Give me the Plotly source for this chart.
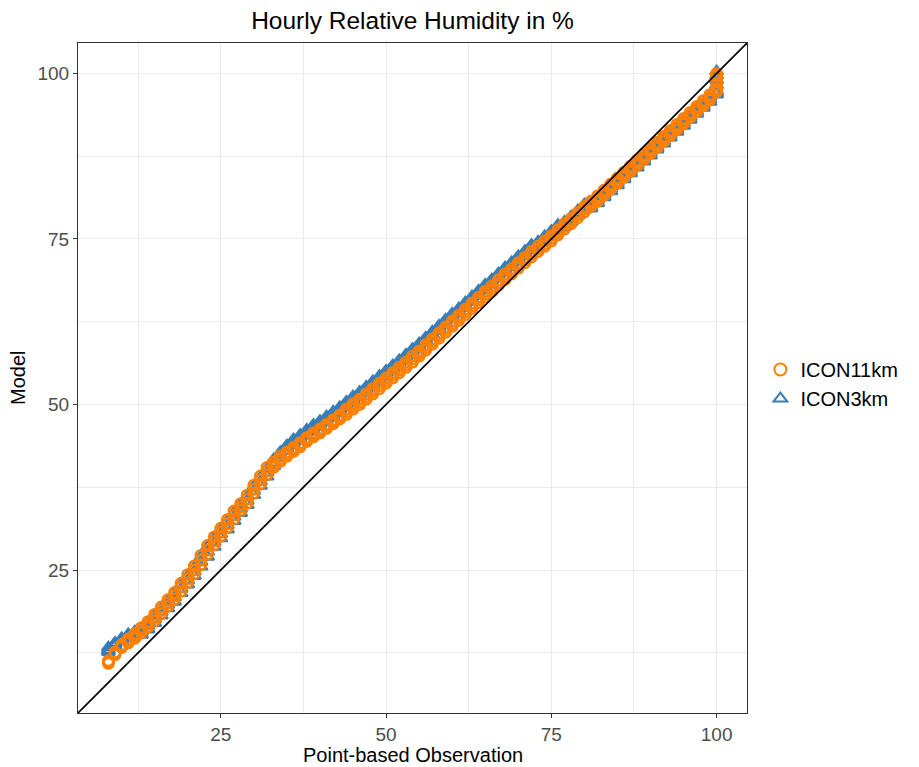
import plotly.graph_objects as go

# Observation quantiles (integer % RH) and model quantiles (lower / middle / upper of each stack)
obs = [8, 9, 10, 11, 12, 13, 14, 15, 16, 17, 18, 19, 20, 21, 22, 23, 24, 25, 26, 27,
       28, 29, 30, 31, 32, 33, 34, 35, 36, 37, 38, 39, 40, 41, 42, 43, 44, 45, 46, 47,
       48, 49, 50, 51, 52, 53, 54, 55, 56, 57, 58, 59, 60, 61, 62, 63, 64, 65, 66, 67,
       68, 69, 70, 71, 72, 73, 74, 75, 76, 77, 78, 79, 80, 81, 82, 83, 84, 85, 86, 87,
       88, 89, 90, 91, 92, 93, 94, 95, 96, 97, 98, 99, 100]

icon11_lo = [10.9, 12.2, 13.3, 14.0, 14.7, 15.5, 16.4, 17.3, 18.4, 19.5, 20.6, 21.8, 23.1, 24.4, 25.8, 27.4, 28.8, 30.1, 31.4, 32.7,
             34.0, 35.1, 36.6, 38.0, 39.4, 40.5, 41.4, 42.2, 42.9, 43.6, 44.4, 45.1, 45.7, 46.4, 47.1, 47.8, 48.5, 49.3, 50.0, 50.8,
             51.6, 52.4, 53.2, 54.0, 54.8, 55.6, 56.4, 57.3, 58.2, 59.1, 60.0, 60.9, 61.8, 62.7, 63.6, 64.5, 65.4, 66.3, 67.1, 68.0,
             68.9, 69.7, 70.6, 71.4, 72.3, 73.1, 73.9, 74.7, 75.6, 76.5, 77.3, 78.2, 79.1, 79.9, 80.7, 81.6, 82.5, 83.4, 84.3, 85.2,
             86.1, 87.0, 87.9, 88.8, 89.7, 90.6, 91.5, 92.4, 93.3, 94.2, 95.1, 96.0, 97.2]
icon11_mid = [11.1, 12.4, 13.5, 14.3, 15.05, 15.9, 16.8, 17.8, 18.9, 20.0, 21.1, 22.4, 23.7, 25.0, 26.5, 28.0, 29.4, 30.7, 32.0, 33.3,
              34.5, 35.7, 37.2, 38.6, 39.95, 40.9, 41.8, 42.5, 43.2, 43.9, 44.7, 45.4, 46.0, 46.7, 47.4, 48.1, 48.9, 49.7, 50.4, 51.2,
              52.0, 52.8, 53.6, 54.4, 55.2, 56.0, 56.85, 57.7, 58.6, 59.5, 60.4, 61.3, 62.2, 63.1, 64.0, 64.9, 65.8, 66.7, 67.5, 68.4,
              69.3, 70.1, 71.0, 71.8, 72.7, 73.5, 74.3, 75.1, 76.0, 76.9, 77.7, 78.6, 79.5, 80.3, 81.1, 82.0, 82.9, 83.8, 84.7, 85.6,
              86.5, 87.4, 88.3, 89.2, 90.1, 91.0, 91.9, 92.8, 93.7, 94.6, 95.5, 96.4, 97.45]
icon11_hi = [11.3, 12.6, 13.7, 14.6, 15.4, 16.3, 17.2, 18.3, 19.4, 20.5, 21.6, 23.0, 24.3, 25.6, 27.2, 28.7, 30.0, 31.3, 32.6, 33.9,
             35.0, 36.3, 37.8, 39.2, 40.5, 41.3, 42.2, 42.8, 43.5, 44.2, 45.0, 45.7, 46.3, 47.0, 47.7, 48.4, 49.3, 50.1, 50.8, 51.6,
             52.4, 53.2, 54.0, 54.8, 55.6, 56.4, 57.3, 58.1, 59.0, 59.9, 60.8, 61.7, 62.6, 63.5, 64.4, 65.3, 66.2, 67.1, 67.9, 68.8,
             69.7, 70.5, 71.4, 72.2, 73.1, 73.9, 74.7, 75.5, 76.4, 77.3, 78.1, 79.0, 79.9, 80.7, 81.5, 82.4, 83.3, 84.2, 85.1, 86.0,
             86.9, 87.8, 88.7, 89.6, 90.5, 91.4, 92.3, 93.2, 94.1, 95.0, 95.9, 96.8, 97.7]
icon11_top_x = [100, 100, 100, 100]
icon11_top_y = [98.3, 99.0, 99.6, 100.0]

icon3_lo = [12.6, 13.5, 14.3, 14.7, 15.1, 15.2, 16.0, 17.0, 18.1, 19.2, 20.2, 21.5, 22.8, 24.1, 25.5, 27.0, 28.5, 29.8, 31.1, 32.4,
            33.6, 34.8, 36.3, 37.7, 39.1, 40.7, 42.0, 43.0, 43.9, 44.6, 45.4, 46.1, 46.7, 47.4, 48.1, 48.8, 49.6, 50.4, 51.1, 51.9,
            52.7, 53.5, 54.3, 55.1, 55.9, 56.7, 57.5, 58.4, 59.3, 60.2, 61.1, 62.0, 62.9, 63.7, 64.6, 65.5, 66.4, 67.3, 68.1, 69.0,
            69.9, 70.7, 71.6, 72.4, 73.3, 73.8, 74.6, 75.4, 76.3, 76.8, 77.6, 78.5, 79.4, 79.6, 80.4, 81.3, 82.2, 83.1, 84.0, 84.9,
            85.8, 86.7, 87.6, 88.5, 89.4, 90.3, 91.2, 92.1, 93.0, 93.9, 94.8, 95.7, 96.8]
icon3_mid = [12.9, 13.75, 14.5, 15.0, 15.4, 15.65, 16.55, 17.55, 18.65, 19.75, 20.85, 22.15, 23.45, 24.75, 26.25, 27.75, 29.15, 30.45, 31.75, 33.05,
             34.25, 35.45, 36.95, 38.35, 39.7, 41.2, 42.4, 43.4, 44.3, 45.0, 45.8, 46.5, 47.1, 47.8, 48.5, 49.2, 50.0, 50.8, 51.5, 52.3,
             53.1, 53.9, 54.7, 55.5, 56.3, 57.1, 57.95, 58.8, 59.7, 60.6, 61.5, 62.4, 63.3, 64.1, 65.0, 65.9, 66.8, 67.7, 68.5, 69.4,
             70.3, 71.1, 72.0, 72.8, 73.7, 74.2, 75.0, 75.8, 76.7, 77.2, 78.0, 78.9, 79.8, 80.0, 80.8, 81.7, 82.6, 83.5, 84.4, 85.3,
             86.2, 87.1, 88.0, 88.9, 89.8, 90.7, 91.6, 92.5, 93.4, 94.3, 95.2, 96.1, 97.1]
icon3_hi = [13.3, 14.0, 14.7, 15.3, 15.7, 16.1, 17.1, 18.1, 19.2, 20.3, 21.5, 22.8, 24.1, 25.4, 27.0, 28.5, 29.8, 31.1, 32.4, 33.7,
            34.9, 36.1, 37.6, 39.0, 40.3, 41.7, 42.8, 43.8, 44.7, 45.4, 46.2, 46.9, 47.5, 48.2, 48.9, 49.6, 50.4, 51.2, 51.9, 52.7,
            53.5, 54.3, 55.1, 55.9, 56.7, 57.5, 58.4, 59.2, 60.1, 61.0, 61.9, 62.8, 63.7, 64.5, 65.4, 66.3, 67.2, 68.1, 68.9, 69.8,
            70.7, 71.5, 72.4, 73.2, 74.1, 74.6, 75.4, 76.2, 77.1, 77.6, 78.4, 79.3, 80.2, 80.4, 81.2, 82.1, 83.0, 83.9, 84.8, 85.7,
            86.6, 87.5, 88.4, 89.3, 90.2, 91.1, 92.0, 92.9, 93.8, 94.7, 95.6, 96.5, 97.4]
icon3_top_x = [100, 100, 100, 100]
icon3_top_y = [98.2, 99.0, 99.7, 100.3]

axis_range = [3.4, 104.6]
major_ticks = [25, 50, 75, 100]

ORANGE = "#FF7F00"
BLUE = "#377EB8"
FONT = "Liberation Sans, Arial, sans-serif"

fig = go.Figure()

fig.add_trace(go.Scatter(
    x=obs + obs + obs + icon3_top_x, y=icon3_lo + icon3_mid + icon3_hi + icon3_top_y,
    mode="markers", name="ICON3km", legendrank=2,
    marker=dict(symbol="triangle-up-open", size=11.5, color=BLUE, line=dict(width=2.1, color=BLUE)),
))
fig.add_trace(go.Scatter(
    x=obs + obs + obs + icon11_top_x, y=icon11_lo + icon11_mid + icon11_hi + icon11_top_y,
    mode="markers", name="ICON11km", legendrank=1,
    marker=dict(symbol="circle-open", size=10.5, color=ORANGE, line=dict(width=2.4, color=ORANGE)),
))
# identity line y = x spanning the axis range
fig.add_trace(go.Scatter(
    x=axis_range, y=axis_range, mode="lines", showlegend=False, hoverinfo="skip",
    line=dict(color="black", width=1.7),
))

axis_common = dict(
    range=axis_range, tickvals=major_ticks, ticks="outside", ticklen=4, tickwidth=1,
    tickcolor="#333333", tickfont=dict(family=FONT, size=19, color="#4D4D4D"),
    showgrid=True, gridcolor="#EBEBEB", gridwidth=1.1,
    minor=dict(showgrid=True, gridcolor="#EBEBEB", gridwidth=0.6, tick0=12.5, dtick=25, ticks=""),
    showline=True, mirror=True, linecolor="#333333", linewidth=1,
    zeroline=False, automargin=False,
)

fig.update_layout(
    width=919, height=767,
    margin=dict(l=78, r=172, t=43, b=54),
    paper_bgcolor="white", plot_bgcolor="white",
    font=dict(family=FONT, color="black"),
    title=dict(text="Hourly Relative Humidity in %", x=(78 + 747) / 2 / 919, xanchor="center",
               y=1 - 20 / 767, yanchor="middle", font=dict(family=FONT, size=24.5, color="black")),
    xaxis=axis_common,
    yaxis=axis_common,
    legend=dict(x=1.02, xanchor="left", y=0.491, yanchor="middle", font=dict(family=FONT, size=20, color="black"),
                bgcolor="rgba(0,0,0,0)", itemsizing="constant", tracegroupgap=0),
    showlegend=True,
    annotations=[
        dict(text="Point-based Observation", xref="paper", yref="paper", x=0.5, y=-42 / 670,
             xanchor="center", yanchor="middle", showarrow=False,
             font=dict(family=FONT, size=20, color="black")),
        dict(text="Model", xref="paper", yref="paper", x=-60 / 669, y=0.5, textangle=-90,
             xanchor="center", yanchor="middle", showarrow=False,
             font=dict(family=FONT, size=20, color="black")),
    ],
)

fig.write_html("out.html")
